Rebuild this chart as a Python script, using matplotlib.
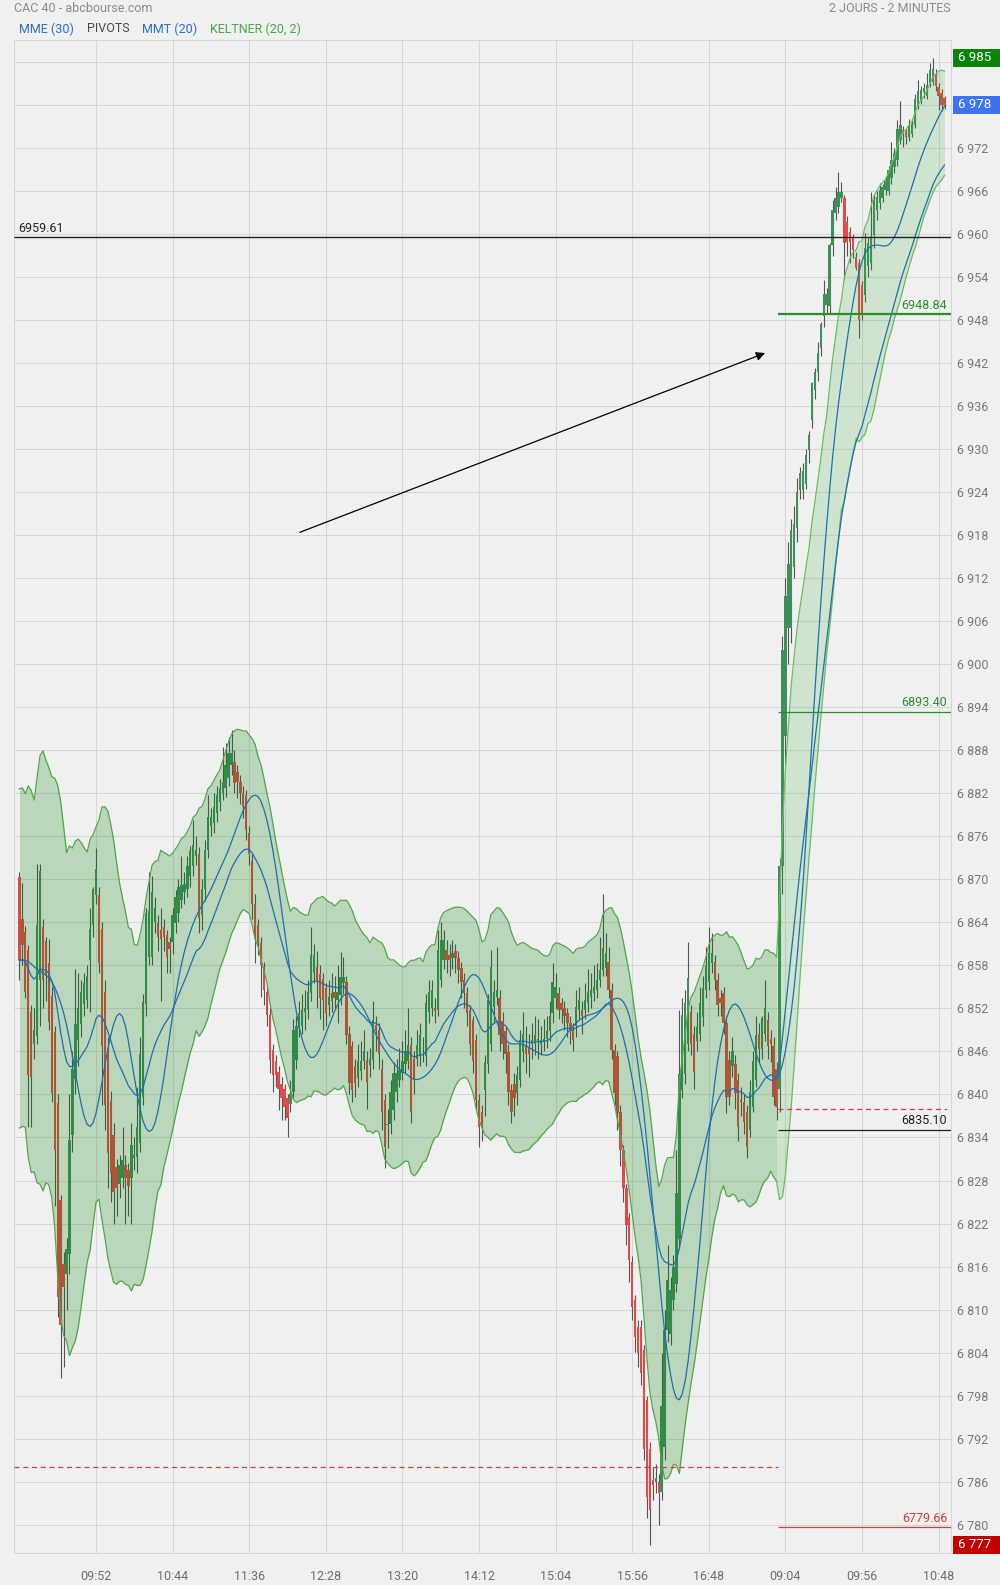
import matplotlib
matplotlib.use("Agg")
import matplotlib.pyplot as plt
import matplotlib.transforms as mtransforms
from matplotlib.patches import Rectangle
import numpy as np
import pandas as pd

plt.rcParams['font.family'] = ['Roboto', 'DejaVu Sans']

# ---------------- data: day 1 (09:00 -> 17:34, 2-minute candles) ----------------
d1_open = [
    6870.3, 6864.5, 6862.7, 6860.1, 6851.5, 6847.1, 6848.2, 6855.9, 6863.4, 6861.4,
    6858.4, 6853.7, 6848.7, 6838.8, 6825.3, 6816.4, 6815.0, 6817.8, 6834.4, 6842.1,
    6847.6, 6849.8, 6852.6, 6853.2, 6858.7, 6863.7, 6867.8, 6867.8, 6863.1, 6854.3,
    6846.5, 6839.1, 6834.4, 6829.9, 6827.5, 6828.3, 6830.2, 6829.4, 6828.3, 6831.1,
    6831.3, 6833.3, 6839.6, 6852.6, 6859.2, 6859.2, 6864.0, 6863.9, 6863.0, 6863.4,
    6862.2, 6861.2, 6861.3, 6863.9, 6865.3, 6867.1, 6868.3, 6868.7, 6870.4, 6871.8,
    6873.2, 6873.6, 6865.0, 6868.7, 6874.1, 6877.5, 6877.8, 6879.2, 6880.8, 6882.0,
    6882.7, 6884.1, 6885.9, 6886.4, 6885.0, 6883.6, 6882.0, 6881.8, 6876.4, 6872.5,
    6866.6, 6863.6, 6861.1, 6857.8, 6854.3, 6851.1, 6846.2, 6844.6, 6843.2, 6841.5,
    6840.8, 6839.5, 6838.7, 6840.4, 6844.8, 6849.2, 6849.5, 6851.5, 6851.8, 6854.1,
    6857.0, 6857.8, 6856.8, 6856.1, 6854.8, 6852.5, 6853.0, 6854.3, 6853.2, 6853.9,
    6855.5, 6855.7, 6848.5, 6846.7, 6843.9, 6842.3, 6843.3, 6844.6, 6844.8, 6844.1,
    6844.8, 6849.7, 6849.0, 6843.6, 6839.2, 6835.7, 6835.9, 6837.8, 6840.4, 6842.0,
    6843.0, 6844.3, 6844.6, 6846.9, 6845.0, 6845.0, 6845.3, 6845.5, 6845.3, 6851.5,
    6852.0, 6852.0, 6851.8, 6856.0, 6858.8, 6860.1, 6859.5, 6859.0, 6860.0, 6859.0,
    6857.6, 6856.0, 6854.1, 6851.8, 6850.4, 6847.6, 6839.2, 6837.5, 6840.6, 6844.3,
    6847.1, 6852.2, 6853.6, 6853.4, 6850.2, 6848.8, 6845.9, 6840.6, 6841.5, 6840.2,
    6842.0, 6845.9, 6846.7, 6846.5, 6847.1, 6847.1, 6847.4, 6847.1, 6847.4, 6847.8,
    6848.8, 6851.3, 6853.4, 6854.1, 6852.7, 6852.0, 6851.3, 6849.9, 6849.0, 6849.5,
    6851.8, 6851.8, 6851.8, 6852.7, 6853.6, 6854.1, 6854.6, 6856.0, 6857.4, 6857.6,
    6858.5, 6854.6, 6846.2, 6845.3, 6837.6, 6832.2, 6826.9, 6822.9, 6816.7, 6811.3,
    6807.6, 6807.6, 6804.3, 6797.4, 6790.6, 6786.2, 6786.0, 6786.0, 6784.6, 6790.9,
    6807.1, 6806.6, 6811.3, 6813.6, 6819.9, 6840.6, 6842.9, 6847.1, 6851.5, 6848.5,
    6847.4, 6848.5, 6850.8, 6854.6, 6855.7, 6858.3, 6858.5, 6856.0, 6853.4, 6854.1,
    6849.9, 6844.8, 6843.9, 6844.3, 6842.0, 6839.2, 6839.0, 6837.6, 6835.0, 6838.3,
    6842.0, 6848.5, 6846.4, 6848.5, 6850.4, 6847.8, 6846.7, 6843.6,
]
d1_high = [
    6871.0, 6869.5, 6863.5, 6860.8, 6852.5, 6852.0, 6872.2, 6872.2, 6864.5, 6862.0,
    6861.7, 6855.0, 6849.5, 6840.0, 6826.0, 6818.0, 6820.0, 6840.0, 6846.0, 6857.5,
    6857.0, 6856.0, 6857.0, 6858.0, 6866.0, 6869.0, 6874.4, 6869.0, 6864.0, 6856.0,
    6848.0, 6840.5, 6836.0, 6831.0, 6831.5, 6835.5, 6831.5, 6830.5, 6836.0, 6834.0,
    6841.0, 6848.0, 6854.0, 6866.0, 6871.0, 6870.5, 6867.5, 6865.0, 6866.0, 6864.5,
    6863.0, 6862.0, 6866.0, 6868.5, 6870.0, 6873.2, 6871.0, 6873.2, 6874.6, 6878.3,
    6876.0, 6874.5, 6870.0, 6875.5, 6881.7, 6880.0, 6882.0, 6883.0, 6884.0, 6888.5,
    6889.0, 6889.9, 6890.8, 6888.0, 6886.0, 6884.5, 6883.0, 6882.5, 6877.5, 6873.5,
    6868.0, 6864.5, 6862.0, 6858.5, 6855.0, 6852.0, 6847.0, 6845.5, 6844.0, 6842.5,
    6841.5, 6840.0, 6842.0, 6850.5, 6851.0, 6853.0, 6854.0, 6854.5, 6856.0, 6863.4,
    6861.0, 6860.0, 6858.0, 6857.0, 6855.5, 6856.0, 6857.0, 6856.5, 6858.0, 6859.9,
    6859.2, 6856.5, 6849.5, 6847.5, 6845.0, 6847.0, 6847.5, 6849.0, 6846.0, 6846.5,
    6853.0, 6851.0, 6850.0, 6845.0, 6840.0, 6838.0, 6842.0, 6844.5, 6845.0, 6846.5,
    6847.5, 6849.0, 6852.0, 6848.0, 6846.0, 6849.0, 6850.0, 6848.0, 6854.0, 6856.0,
    6856.0, 6853.5, 6863.0, 6864.0, 6863.0, 6861.5, 6861.0, 6861.5, 6861.0, 6860.0,
    6858.5, 6857.0, 6855.0, 6852.5, 6851.0, 6848.5, 6840.0, 6838.5, 6845.5, 6854.0,
    6860.1, 6856.0, 6860.6, 6854.5, 6851.5, 6849.5, 6847.0, 6841.5, 6843.0, 6844.0,
    6849.0, 6851.5, 6849.5, 6848.5, 6850.0, 6851.0, 6850.5, 6849.5, 6850.5, 6851.0,
    6853.0, 6858.3, 6857.0, 6855.0, 6853.5, 6853.0, 6852.0, 6851.0, 6850.0, 6854.5,
    6855.0, 6853.0, 6855.5, 6857.5, 6857.0, 6858.0, 6858.3, 6862.0, 6868.0, 6862.5,
    6860.5, 6855.5, 6847.0, 6846.0, 6838.5, 6833.0, 6827.5, 6823.5, 6817.5, 6812.0,
    6808.5, 6808.5, 6805.0, 6798.0, 6791.5, 6788.0, 6788.4, 6787.0, 6803.9, 6810.0,
    6819.0, 6814.5, 6817.6, 6832.2, 6851.8, 6853.4, 6854.5, 6861.3, 6852.5, 6849.5,
    6851.5, 6855.0, 6856.5, 6860.6, 6863.4, 6862.5, 6859.5, 6857.0, 6854.5, 6855.0,
    6851.0, 6846.0, 6848.0, 6845.5, 6843.0, 6841.0, 6840.0, 6838.5, 6842.0, 6846.0,
    6851.0, 6850.0, 6851.0, 6856.0, 6851.5, 6849.0, 6848.0, 6844.5,
]
d1_low = [
    6856.0, 6858.0, 6853.5, 6835.5, 6835.5, 6845.0, 6847.0, 6849.5, 6852.0, 6853.0,
    6849.0, 6839.0, 6824.4, 6809.0, 6800.4, 6802.0, 6810.0, 6815.0, 6832.0, 6840.0,
    6844.0, 6848.0, 6851.0, 6852.0, 6851.5, 6862.0, 6866.5, 6857.0, 6838.5, 6835.0,
    6827.0, 6825.0, 6822.0, 6823.1, 6825.5, 6827.0, 6822.0, 6823.0, 6822.0, 6829.5,
    6829.0, 6832.0, 6838.5, 6851.0, 6858.0, 6858.0, 6862.5, 6860.0, 6853.0, 6860.0,
    6857.0, 6856.9, 6859.6, 6862.5, 6864.0, 6866.0, 6866.5, 6867.5, 6869.0, 6870.5,
    6872.0, 6862.5, 6863.0, 6867.0, 6873.0, 6876.0, 6876.5, 6878.0, 6879.5, 6881.0,
    6881.5, 6883.0, 6884.5, 6882.0, 6881.3, 6880.5, 6878.5, 6875.5, 6872.0, 6864.5,
    6858.3, 6859.5, 6853.6, 6852.5, 6849.5, 6843.0, 6840.4, 6841.0, 6837.8, 6836.4,
    6836.5, 6834.0, 6837.5, 6839.5, 6843.5, 6848.0, 6848.5, 6849.0, 6850.5, 6853.0,
    6855.5, 6852.0, 6850.5, 6849.0, 6849.5, 6851.0, 6851.5, 6852.0, 6850.0, 6852.5,
    6854.0, 6847.0, 6840.0, 6839.0, 6839.7, 6841.0, 6842.0, 6843.5, 6838.0, 6842.5,
    6843.5, 6846.0, 6843.5, 6835.0, 6829.7, 6832.5, 6834.5, 6836.5, 6839.0, 6841.0,
    6842.0, 6843.0, 6843.5, 6836.0, 6840.0, 6844.0, 6844.0, 6844.5, 6844.0, 6850.0,
    6851.0, 6850.0, 6851.0, 6855.0, 6857.5, 6857.0, 6856.5, 6857.5, 6857.0, 6855.5,
    6853.5, 6852.0, 6849.5, 6845.5, 6843.0, 6838.0, 6832.7, 6833.5, 6837.0, 6843.0,
    6846.0, 6850.0, 6852.5, 6846.0, 6845.0, 6843.0, 6838.5, 6836.0, 6837.0, 6838.5,
    6841.0, 6844.5, 6843.0, 6842.5, 6845.0, 6845.5, 6845.0, 6845.5, 6846.0, 6846.5,
    6847.5, 6850.0, 6852.0, 6850.5, 6850.0, 6849.0, 6848.0, 6847.0, 6846.0, 6848.0,
    6850.5, 6848.5, 6850.5, 6851.5, 6852.0, 6853.0, 6853.5, 6855.0, 6856.5, 6856.5,
    6853.5, 6845.0, 6838.5, 6835.0, 6830.0, 6825.0, 6819.0, 6813.9, 6808.5, 6804.1,
    6802.0, 6799.5, 6789.0, 6780.9, 6777.2, 6783.4, 6784.4, 6779.9, 6783.5, 6789.0,
    6805.5, 6805.0, 6810.0, 6812.5, 6818.5, 6839.5, 6841.5, 6846.0, 6845.5, 6840.8,
    6846.0, 6847.5, 6849.5, 6853.5, 6854.5, 6857.0, 6854.5, 6851.0, 6851.0, 6848.5,
    6837.4, 6838.5, 6842.5, 6838.0, 6833.5, 6837.0, 6834.5, 6831.1, 6834.0, 6837.5,
    6841.0, 6844.5, 6845.0, 6847.5, 6845.0, 6844.5, 6838.5, 6836.5,
]
d1_close = [
    6858.7, 6860.9, 6854.3, 6842.7, 6842.4, 6849.0, 6863.7, 6871.1, 6855.9, 6856.5,
    6850.1, 6840.2, 6832.2, 6811.7, 6807.9, 6813.1, 6818.4, 6833.6, 6843.5, 6849.8,
    6852.0, 6854.3, 6855.6, 6856.5, 6863.1, 6868.6, 6871.4, 6858.4, 6846.8, 6838.5,
    6831.9, 6829.1, 6826.4, 6826.9, 6830.2, 6830.8, 6828.3, 6827.2, 6833.0, 6831.6,
    6835.5, 6845.7, 6852.9, 6865.3, 6865.6, 6868.3, 6866.0, 6862.0, 6861.7, 6862.0,
    6859.2, 6860.3, 6865.0, 6867.6, 6869.0, 6869.2, 6869.4, 6871.8, 6873.9, 6874.8,
    6874.1, 6864.6, 6868.7, 6874.1, 6878.7, 6878.7, 6880.1, 6881.8, 6882.7, 6883.6,
    6885.9, 6887.6, 6887.6, 6883.4, 6883.6, 6882.0, 6880.1, 6876.9, 6873.6, 6866.6,
    6862.0, 6861.1, 6858.1, 6854.6, 6851.1, 6844.8, 6842.7, 6842.7, 6840.8, 6839.5,
    6838.3, 6836.7, 6840.1, 6849.0, 6849.5, 6851.3, 6851.8, 6852.0, 6854.3, 6859.4,
    6859.4, 6856.0, 6853.4, 6853.2, 6851.3, 6853.6, 6854.1, 6853.4, 6854.3, 6856.4,
    6856.4, 6848.3, 6841.6, 6840.6, 6841.6, 6844.6, 6844.6, 6846.0, 6841.8, 6845.0,
    6850.4, 6848.8, 6845.7, 6837.6, 6832.7, 6835.9, 6840.4, 6843.0, 6843.0, 6843.4,
    6844.6, 6846.0, 6846.9, 6837.6, 6842.0, 6846.9, 6848.3, 6845.7, 6852.7, 6854.3,
    6854.6, 6851.6, 6860.1, 6861.5, 6861.5, 6858.8, 6858.8, 6859.7, 6859.0, 6857.4,
    6855.7, 6854.1, 6851.3, 6847.1, 6844.6, 6839.2, 6835.5, 6835.5, 6844.5, 6853.2,
    6857.8, 6854.3, 6854.6, 6848.3, 6847.1, 6845.7, 6840.4, 6837.6, 6839.5, 6842.7,
    6847.6, 6848.5, 6845.7, 6845.7, 6847.6, 6848.3, 6847.8, 6847.6, 6847.8, 6848.8,
    6850.9, 6855.7, 6855.0, 6851.8, 6851.8, 6850.9, 6849.9, 6848.8, 6847.6, 6852.2,
    6853.2, 6850.9, 6853.2, 6854.3, 6854.6, 6855.0, 6856.0, 6857.4, 6860.4, 6859.7,
    6854.6, 6846.2, 6840.2, 6837.4, 6832.2, 6826.9, 6821.8, 6816.9, 6810.4, 6806.2,
    6803.9, 6801.1, 6790.6, 6783.9, 6782.0, 6785.5, 6786.5, 6784.4, 6796.5, 6807.1,
    6814.1, 6812.7, 6816.0, 6826.2, 6842.9, 6851.1, 6852.7, 6856.2, 6847.1, 6843.2,
    6849.4, 6852.7, 6854.8, 6858.0, 6859.7, 6859.7, 6856.0, 6852.5, 6852.7, 6849.9,
    6839.7, 6839.7, 6846.0, 6840.2, 6835.5, 6838.9, 6836.2, 6832.7, 6840.4, 6844.6,
    6848.3, 6846.4, 6850.6, 6852.0, 6846.7, 6847.1, 6839.7, 6838.3,
]

# ---------------- data: day 2 (09:00 -> 10:52) ----------------
d2_open = [
    6840.7, 6871.8, 6890.0, 6905.0, 6905.0, 6913.5, 6919.0, 6924.3, 6924.3, 6925.2,
    6929.9, 6934.1, 6938.3, 6940.8, 6944.1, 6948.5, 6950.1, 6949.9, 6958.5, 6962.9,
    6963.8, 6965.0, 6965.0, 6961.7, 6960.3, 6959.6, 6956.8, 6955.9, 6952.9, 6951.5,
    6955.5, 6955.9, 6959.9, 6963.4, 6964.3, 6965.0, 6966.2, 6966.0, 6967.8, 6969.4,
    6970.3, 6973.1, 6974.5, 6974.2, 6973.6, 6974.0, 6975.2, 6978.0, 6978.7, 6979.8,
    6979.2, 6981.0, 6981.2, 6982.2, 6980.5, 6979.7, 6979.0,
]
d2_high = [
    6873.0, 6904.0, 6912.0, 6917.0, 6920.3, 6922.0, 6926.0, 6927.5, 6928.0, 6930.0,
    6932.5, 6939.4, 6941.3, 6945.0, 6947.8, 6953.6, 6952.5, 6958.8, 6964.7, 6966.6,
    6968.6, 6967.3, 6965.5, 6962.5, 6961.0, 6960.0, 6957.5, 6956.5, 6953.5, 6960.1,
    6959.5, 6965.9, 6965.5, 6966.0, 6967.1, 6967.0, 6968.0, 6969.5, 6972.9, 6972.0,
    6975.9, 6978.5, 6975.0, 6974.6, 6976.1, 6976.0, 6979.5, 6981.5, 6980.6, 6981.0,
    6982.4, 6983.8, 6984.6, 6983.0, 6981.0, 6980.2, 6979.3,
]
d2_low = [
    6837.5, 6868.0, 6886.0, 6900.0, 6903.0, 6912.0, 6917.0, 6923.0, 6923.0, 6924.5,
    6928.0, 6933.0, 6937.0, 6939.5, 6943.0, 6947.0, 6949.0, 6949.0, 6957.0, 6962.0,
    6963.0, 6964.5, 6953.6, 6957.0, 6955.9, 6956.6, 6955.0, 6945.5, 6948.0, 6950.5,
    6954.0, 6955.0, 6958.0, 6962.0, 6963.5, 6964.5, 6965.5, 6965.5, 6967.0, 6968.5,
    6969.5, 6972.5, 6972.2, 6972.5, 6973.0, 6973.5, 6974.8, 6977.5, 6978.2, 6979.0,
    6978.8, 6980.5, 6980.8, 6980.0, 6977.3, 6977.1, 6977.5,
]
d2_close = [
    6871.8, 6902.0, 6909.5, 6914.0, 6918.7, 6919.6, 6924.0, 6926.7, 6926.9, 6929.2,
    6932.0, 6939.2, 6940.8, 6943.4, 6947.5, 6951.7, 6951.7, 6958.5, 6963.4, 6965.0,
    6965.9, 6965.9, 6958.7, 6958.9, 6958.9, 6957.8, 6955.2, 6948.0, 6948.9, 6958.0,
    6958.7, 6959.6, 6964.7, 6965.2, 6966.1, 6966.6, 6967.4, 6968.9, 6970.3, 6971.3,
    6974.7, 6975.2, 6973.9, 6973.5, 6975.2, 6975.4, 6978.9, 6979.9, 6980.1, 6980.4,
    6980.8, 6982.9, 6983.0, 6980.6, 6979.2, 6978.0, 6978.0,
]

# indicator state carried over from the previous session
seed_keltner_mid = 6859.0
seed_keltner_atr = 11.5
seed_mme30 = 6858.7
seed_mmt20 = 6858.7

# time axis labels (day index 0 = first session, 1 = second session)
tick_times = ["09:52", "10:44", "11:36", "12:28", "13:20", "14:12", "15:04",
              "15:56", "16:48", "09:04", "09:56", "10:48"]
tick_days = [0, 0, 0, 0, 0, 0, 0, 0, 0, 1, 1, 1]

# pivots
pivot_global = 6959.61
pivot_day1_dashed = 6788.0
pivot_day2_levels = [6948.84, 6893.40, 6835.10, 6779.66]
pivot_day2_labels = ["6948.84", "6893.40", "6835.10", "6779.66"]
pivot_day2_dashed = 6838.0

# hand-drawn arrow (candle index, price)
arrow_start = (95.2, 6918.4)
arrow_end = (253.1, 6943.4)

# ---------------- build series ----------------
o = np.array(d1_open + d2_open)
h = np.array(d1_high + d2_high)
l = np.array(d1_low + d2_low)
c = np.array(d1_close + d2_close)
n1 = len(d1_close)
x = np.arange(len(c))


def ema_seeded(vals, span, seed):
    a = 2.0 / (span + 1)
    s = seed
    out = np.empty(len(vals))
    for i, v in enumerate(vals):
        s += a * (v - s)
        out[i] = s
    return out


prev_c = np.concatenate([[o[0]], c[:-1]])
tr = np.maximum.reduce([h - l, np.abs(h - prev_c), np.abs(l - prev_c)])
atr = ema_seeded(tr, 20, seed_keltner_atr)
mid = ema_seeded(c, 20, seed_keltner_mid)
upper = mid + 2 * atr
lower = mid - 2 * atr
mme30 = ema_seeded(c, 30, seed_mme30)
pad = pd.Series(np.concatenate([np.full(20, seed_mmt20), c]))
mmt20 = pad.rolling(10).mean().rolling(11).mean().values[20:]

# price tags (high, last, low)
tags = [(h.max(), '#0b840b'), (c[-1], '#3d72f2'), (l.min(), '#c20000')]
box_h = 18 / 7.17

# ---------------- figure ----------------
W, H = 1000, 1585
BG = '#f0f0f0'
fig = plt.figure(figsize=(W / 100, H / 100), dpi=100, facecolor=BG)
PL, PR, PT, PB = 14, 951, 40, 1553
ax = fig.add_axes([PL / W, 1 - PB / H, (PR - PL) / W, (PB - PT) / H])
ax.set_facecolor(BG)
ax.set_xlim(-1.83, 316.2)
ax.set_ylim(6776.05, 6987.06)

# grid / ticks
yt = np.arange(6780, 6985, 6)
ax.set_yticks(yt)
ylabels = []
for v in yt:
    hidden = any(abs(v - tv) < box_h * 0.9 for tv, _ in tags)
    ylabels.append("" if hidden else f"{int(v) // 1000} {int(v) % 1000:03d}")
ax.set_yticklabels(ylabels)
tick_pos = []
for t, d in zip(tick_times, tick_days):
    hh, mm = map(int, t.split(':'))
    tick_pos.append((hh * 60 + mm - 540) / 2 + d * n1)
ax.set_xticks(tick_pos)
ax.set_xticklabels(tick_times)
ax.yaxis.tick_right()
ax.tick_params(axis='y', length=0, pad=4.5, labelsize=9, labelcolor='#7a7a7a')
ax.tick_params(axis='x', length=0, pad=12, labelsize=9, labelcolor='#6e6e6e')
ax.grid(True, color='#d6d6d6', lw=0.75, zorder=0)
ax.set_axisbelow(True)
for s in ax.spines.values():
    s.set_color('#d6d6d6')
    s.set_linewidth(0.75)

# candles
up = c >= o
ax.vlines(x, l, h, color='#555555', lw=0.8, zorder=2)
body_b = np.minimum(o, c)
body_h = np.maximum(np.abs(c - o), 0.15)
ax.bar(x, body_h, bottom=body_b, width=0.8,
       color=np.where(up, '#3f8f5a', '#e04a48'), lw=0, zorder=3)

# Keltner channel
ax.fill_between(x[:n1], lower[:n1], upper[:n1], color=(0, 0.5, 0), alpha=0.22, lw=0, zorder=4)
ax.fill_between(x[n1 - 1:], lower[n1 - 1:], upper[n1 - 1:], color=(0.16, 0.67, 0.16), alpha=0.17, lw=0, zorder=4)
ax.plot(x[:n1], upper[:n1], color='#52a54c', lw=0.9, zorder=5)
ax.plot(x[:n1], lower[:n1], color='#52a54c', lw=0.9, zorder=5)
ax.plot(x[n1 - 1:], upper[n1 - 1:], color='#6cbb62', lw=0.9, zorder=5)
ax.plot(x[n1 - 1:], lower[n1 - 1:], color='#6cbb62', lw=0.9, zorder=5)

# moving averages
ax.plot(x, mme30, color='#1f6fae', lw=0.9, zorder=6)
ax.plot(x, mmt20, color='#1f6fae', lw=0.9, zorder=6)

# pivots
x_left, x_right = -1.83, 316.2
x_split = n1 - 0.5
ax.hlines(pivot_global, x_left, x_right, color='#222222', lw=1.0, zorder=7)
ax.text(-0.5, pivot_global + 0.3, f"{pivot_global:.2f}", color='#222222', fontsize=9,
        ha='left', va='bottom', zorder=8)
ax.hlines(pivot_day1_dashed, x_left, x_split, color='#e53935', lw=0.9, linestyles=(0, (4, 3)), zorder=7)
ax.hlines(pivot_day2_dashed, x_split, x_right - 1.3, color='#e53935', lw=0.9, linestyles=(0, (4, 3)), zorder=7)
p_colors = ['#2e8b2e', '#2e8b2e', '#222222', '#e53935']
p_lw = [1.6, 0.9, 0.9, 0.9]
for v, lab, col, lw in zip(pivot_day2_levels, pivot_day2_labels, p_colors, p_lw):
    ax.hlines(v, x_split, x_right, color=col, lw=lw, zorder=7)
    ax.text(314.9, v + 0.35, lab, color=col, fontsize=9, ha='right', va='bottom', zorder=8)

# arrow
ax.annotate('', xy=arrow_end, xytext=arrow_start,
            arrowprops=dict(arrowstyle='-|>', color='black', lw=0.9, mutation_scale=13,
                            shrinkA=0, shrinkB=0), zorder=9)

# price tags on the right
blend = mtransforms.blended_transform_factory(fig.transFigure, ax.transData)
for val, col in tags:
    r = Rectangle((953 / W, val - box_h / 2), 47 / W, box_h, transform=blend,
                  facecolor=col, edgecolor='none', clip_on=False, zorder=20)
    fig.add_artist(r)
    iv = int(round(val))
    fig.text(958 / W, val, f"{iv // 1000} {iv % 1000:03d}", transform=blend, color='white',
             fontsize=9.5, va='center', ha='left', zorder=21)

# header & legend
fig.text(14 / W, 1 - 9 / H, "CAC 40 - abcbourse.com", color='#8c8c8c', fontsize=9, va='center')
fig.text(951 / W, 1 - 9 / H, "2 JOURS - 2 MINUTES", color='#8c8c8c', fontsize=9, va='center', ha='right')
for xt, txt, col in [(19, "MME (30)", '#2a6fc9'), (87, "PIVOTS", '#4a4a4a'),
                     (142, "MMT (20)", '#2a6fc9'), (210, "KELTNER (20, 2)", '#45a845')]:
    fig.text(xt / W, 1 - 29 / H, txt, color=col, fontsize=9, va='center', ha='left')

fig.savefig("out.png", dpi=100, facecolor=BG)
